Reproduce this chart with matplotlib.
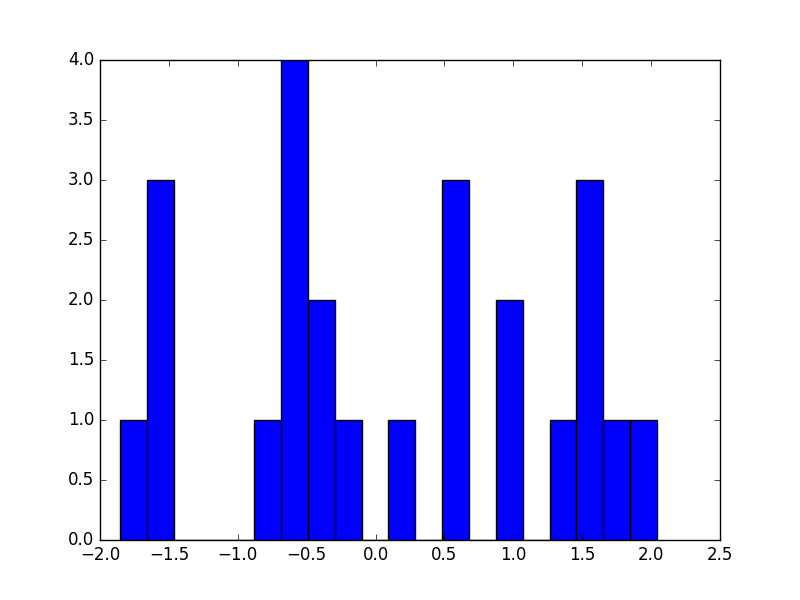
import numpy as np
import matplotlib
matplotlib.use('Agg')
import matplotlib.pyplot as plt

# histogram: 20 equal bins between these limits
BIN_LO = -1.855
BIN_HI = 2.042
COUNTS = [1, 3, 0, 0, 0, 1, 4, 2, 1, 0, 1, 0, 3, 0, 2, 0, 1, 3, 1, 1]

plt.style.use('classic')

edges = np.linspace(BIN_LO, BIN_HI, len(COUNTS) + 1)

fig, ax = plt.subplots(figsize=(8, 6), dpi=100)
ax.hist(edges[:-1], bins=edges, weights=COUNTS, color='b', edgecolor='k')
ax.set_xlim(-2.0, 2.5)
ax.set_ylim(0, 4.0)
fig.savefig('out.png', dpi=100)
